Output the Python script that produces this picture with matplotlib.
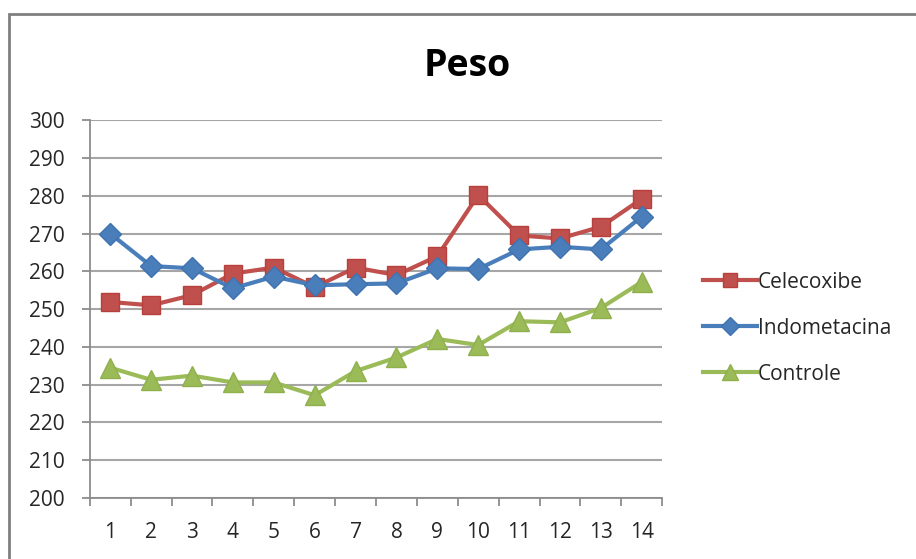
import matplotlib.pyplot as plt
from matplotlib.patches import Rectangle

dias = list(range(1, 15))
celecoxibe = [251.9, 251.0, 253.7, 259.4, 261.0, 255.8, 261.0, 259.0, 264.0, 280.2, 269.5, 268.7, 271.8, 279.2]
indometacina = [270.0, 261.4, 260.8, 255.5, 258.6, 256.3, 256.6, 256.8, 260.8, 260.6, 265.8, 266.5, 265.8, 274.5]
controle = [234.5, 231.3, 232.4, 230.6, 230.6, 227.2, 233.6, 237.2, 242.1, 240.5, 246.8, 246.5, 250.3, 257.2]

plt.rcParams['font.family'] = ['Open Sans', 'DejaVu Sans']

fig = plt.figure(figsize=(9.16, 5.59), dpi=100)
# moldura da área do gráfico
fig.patches.append(Rectangle((0.010, -0.05), 1.05, 1.025, transform=fig.transFigure,
                             fill=False, edgecolor='#7f7f7f', linewidth=2.0))

ax = fig.add_axes([0.098, 0.109, 0.625, 0.676])

ax.plot(dias, celecoxibe, '-', color='#C0504D', marker='s', markersize=13,
        linewidth=3, markeredgecolor='#B8403C', label='Celecoxibe', zorder=3)
ax.plot(dias, indometacina, '-', color='#4A7EBB', marker='D', markersize=11,
        linewidth=3, markeredgecolor='#3F72B0', label='Indometacina', zorder=4)
ax.plot(dias, controle, '-', color='#9BBB59', marker='^', markersize=14,
        linewidth=3, markeredgecolor='#8FB04C', label='Controle', zorder=3)

ax.set_xlim(0.5, 14.5)
ax.set_ylim(200, 300)
ax.set_yticks(range(200, 301, 10))
ax.set_xticks(dias)
ax.set_xticks([d + 0.5 for d in range(0, 15)], minor=True)

ax.grid(axis='y', color='#A6A6A6', linewidth=1.5)
ax.set_axisbelow(True)
for side in ['top', 'right']:
    ax.spines[side].set_visible(False)
for side in ['left', 'bottom']:
    ax.spines[side].set_color('#8C8C8C')
    ax.spines[side].set_linewidth(1.3)

ax.tick_params(axis='x', which='major', length=0, pad=17, labelsize=15, labelcolor='#262626')
ax.tick_params(axis='x', which='minor', length=6, width=1.3, color='#8C8C8C', direction='out')
ax.tick_params(axis='y', length=6, width=1.3, color='#8C8C8C', labelsize=15,
               labelcolor='#262626', pad=12)

fig.text(0.51, 0.882, 'Peso', ha='center', va='center', fontsize=27, fontweight='bold')

fig.legend(loc='center left', bbox_to_anchor=(0.756, 0.413), frameon=False,
           fontsize=15, handlelength=2.6, handletextpad=0.05, labelspacing=1.2,
           borderpad=0, markerscale=0.8, labelcolor='#262626')

fig.savefig('out.png', dpi=100)
